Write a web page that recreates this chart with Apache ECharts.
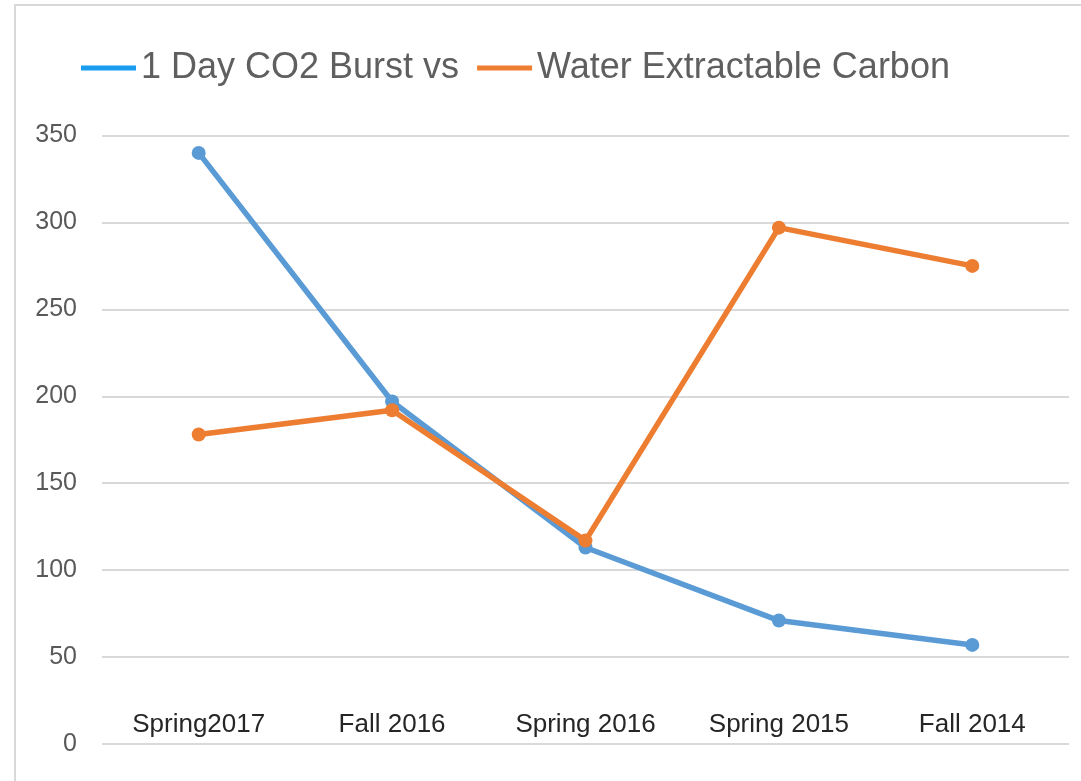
<!doctype html>
<html>

<head>
  <meta charset="utf-8">
  <script src="https://cdn.jsdelivr.net/npm/echarts@6/dist/echarts.min.js"></script>
</head>

<body>
  <style>
    html,
    body {
      width: 100%;
      height: 100%;
      margin: 0;
      background-color: #fff;
    }

    #frame {
      position: absolute;
      left: 14px;
      top: 4px;
      right: 0;
      bottom: 0;
      border-left: 2px solid #d9d9d9;
      border-top: 2px solid #d9d9d9;
    }

    #main {
      position: absolute;
      left: 0;
      top: 0;
      width: 1081px;
      height: 781px;
    }
  </style>
  <div id="frame"></div>
  <div id="main"></div>
  <script>
    // data
    var seasons = ['Spring2017', 'Fall 2016', 'Spring 2016', 'Spring 2015', 'Fall 2014'];
    var co2Burst = [340, 197, 113, 71, 57];
    var waterCarbon = [178, 192, 117, 297, 275];
    var seriesNames = ['1 Day CO2 Burst vs', 'Water Extractable Carbon'];

    var blue = '#5b9bd5',
      orange = '#ed7d31';

    function lineSeries(name, values, color) {
      return {
        type: 'line',
        name: name,
        data: values,
        symbol: 'circle',
        symbolSize: 14,
        lineStyle: { color: color, width: 5.5 },
        itemStyle: { color: color },
        animation: false
      };
    }

    var chart = echarts.init(document.getElementById('main'));
    chart.setOption({
      legend: {
        left: 76,
        top: 41,
        width: 1000,
        itemWidth: 55,
        itemHeight: 5,
        itemGap: 18,
        icon: 'rect',
        textStyle: {
          fontFamily: "'Liberation Sans', sans-serif",
          fontSize: 36,
          lineHeight: 44,
          color: '#5f5f5f'
        },
        data: [
          { name: seriesNames[0], itemStyle: { color: '#1a9cf0' } },
          { name: seriesNames[1], itemStyle: { color: orange } }
        ]
      },
      grid: { left: 102, right: 12, top: 135.5, bottom: 37 },
      xAxis: {
        type: 'category',
        data: seasons,
        axisLine: { show: false },
        axisTick: { show: false },
        axisLabel: {
          margin: -19,
          verticalAlign: 'middle',
          fontFamily: "'Liberation Sans', sans-serif",
          fontSize: 26,
          color: '#262626'
        }
      },
      yAxis: {
        type: 'value',
        min: 0,
        max: 350,
        interval: 50,
        axisLine: { show: false },
        axisTick: { show: false },
        axisLabel: {
          margin: 25,
          fontFamily: "'Liberation Sans', sans-serif",
          fontSize: 25,
          color: '#595959'
        },
        splitLine: { lineStyle: { color: '#d9d9d9', width: 2 } }
      },
      series: [
        lineSeries(seriesNames[0], co2Burst, blue),
        lineSeries(seriesNames[1], waterCarbon, orange)
      ]
    });
  </script>
</body>

</html>
